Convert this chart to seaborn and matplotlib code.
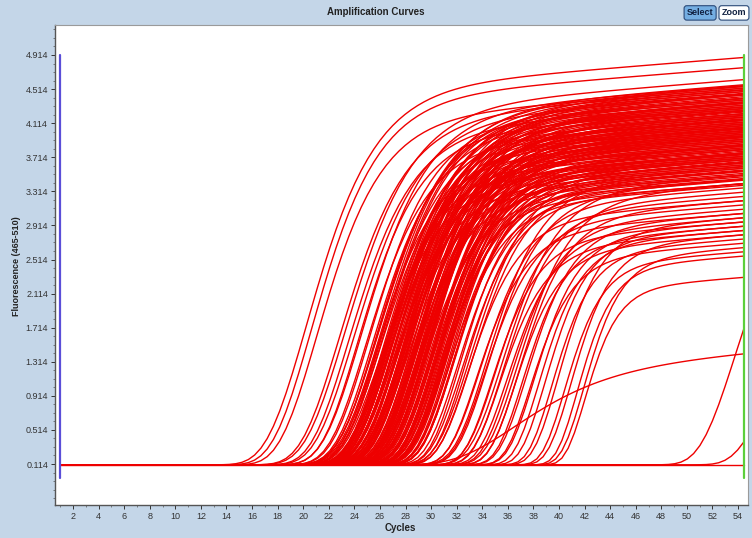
import numpy as np
import pandas as pd
import matplotlib
matplotlib.use('Agg')
import matplotlib.pyplot as plt
from matplotlib.ticker import AutoMinorLocator
import seaborn as sns

# per-well curve parameters:
# ct = cycle of the inflection, plateau = height above baseline at the last cycle,
# width = how many cycles the rise takes
ct = [
    20.2, 20.6, 21.0,
    22.8, 23.2, 23.5, 23.9, 24.2, 24.5, 24.8, 25.1,
    25.4, 25.6, 25.7, 25.9, 26.0, 26.1, 26.2, 26.3, 26.4, 26.5,
    26.6, 26.7, 26.8, 26.9, 27.0, 27.0, 27.1, 27.2, 27.3, 27.4,
    27.5, 27.5, 27.6, 27.7, 27.8, 27.9, 28.0, 28.0, 28.1, 28.2,
    28.3, 28.3, 28.4, 28.5, 28.6, 28.7, 28.8, 28.8, 28.9, 29.0,
    29.1, 29.1, 29.2, 29.3, 29.4, 29.5, 29.5, 29.6, 29.7, 29.8,
    29.9, 30.0, 30.0, 30.1, 30.2, 30.3, 30.4, 30.5, 30.6, 30.7,
    30.8, 30.9, 31.0, 31.1, 31.2, 31.3, 31.5, 31.6, 31.8, 32.0,
    26.2, 26.8, 27.3, 27.9, 28.4, 28.9, 29.4, 29.9, 30.4, 30.9,
    26.5, 27.1, 27.6, 28.1, 28.6, 29.2, 29.7, 30.2, 30.7, 31.4,
    25.8, 26.4, 27.0, 27.6, 28.2, 28.7, 29.3, 29.8, 30.3, 31.0,
    25.6, 26.0, 26.3, 26.7, 27.0, 27.4, 27.7, 28.0, 28.3, 28.6,
    28.9, 29.2, 29.5, 29.8, 30.1, 30.4, 30.7, 31.0, 31.3, 31.7,
    25.9, 26.3, 26.6, 27.0, 27.3, 27.6, 28.0, 28.4, 28.7, 29.0,
    29.4, 29.7, 30.0, 30.3, 30.6, 31.0, 31.4, 31.8, 32.2, 32.6,
    32.4, 32.8, 33.1, 33.5, 33.8, 34.1, 34.4, 34.7, 35.0, 35.3,
    35.6, 35.9, 36.2, 36.5, 36.8, 37.1, 37.4, 37.7, 38.0, 38.4,
    33.0, 34.3, 35.5, 36.7,
    38.9, 39.4, 39.9, 40.4, 40.9, 41.4, 41.9, 42.0,
    36.1, 53.7, 56.2, 60.0,
]
plateau = [
    4.78, 4.66, 4.42,
    4.40, 4.52, 4.25, 4.35, 4.18, 4.45, 4.05, 4.30,
    4.20, 3.85, 4.35, 3.60, 4.05, 4.42, 3.75, 4.15, 3.95, 4.30,
    3.70, 4.10, 4.38, 3.50, 3.90, 4.25, 4.00, 3.65, 4.32, 3.80,
    4.12, 3.45, 4.28, 3.88, 4.02, 3.72, 4.40, 3.58, 4.18, 3.92,
    3.66, 4.22, 3.40, 4.08, 3.84, 4.34, 3.55, 3.98, 4.14, 3.76,
    4.26, 3.62, 3.94, 3.35, 4.06, 3.82, 4.20, 3.48, 3.90, 4.10,
    3.70, 3.52, 4.16, 3.86, 3.30, 4.00, 3.64, 3.78, 3.44, 3.96,
    3.60, 3.38, 3.84, 3.50, 3.72, 3.28, 3.66, 3.42, 3.56, 3.34,
    4.36, 4.04, 3.82, 4.24, 3.68, 4.12, 3.92, 3.58, 3.80, 3.46,
    3.98, 4.30, 3.74, 4.18, 3.54, 3.88, 4.02, 3.62, 3.70, 3.40,
    4.44, 3.96, 4.22, 3.66, 4.08, 3.86, 3.76, 4.04, 3.52, 3.74,
    4.28, 4.46, 3.92, 4.16, 4.40, 3.86, 4.30, 4.06, 4.38, 3.96,
    4.24, 4.12, 3.88, 4.02, 3.94, 3.70, 3.82, 3.66, 3.54, 3.48,
    4.10, 3.74, 4.34, 3.98, 4.20, 4.44, 3.80, 4.26, 3.64, 4.16,
    3.92, 4.08, 3.78, 4.00, 3.86, 3.58, 3.90, 3.62, 3.40, 3.36,
    3.30, 3.10, 3.45, 2.95, 3.25, 3.05, 3.35, 2.85, 3.15, 2.75,
    3.20, 2.90, 3.00, 2.70, 3.10, 2.80, 2.95, 2.60, 2.85, 2.75,
    3.60, 3.50, 3.40, 3.30,
    2.80, 2.65, 2.90, 2.50, 2.70, 2.45, 2.55, 2.20,
    1.32, 3.40, 2.00, 0.00,
]
width = [
    3.1, 3.0, 2.9,
    3.0, 3.1, 2.9, 3.0, 2.8, 3.0, 2.8, 2.9,
    2.9, 2.7, 3.0, 2.8, 2.9, 3.1, 2.7, 2.8, 2.9, 3.0,
    2.6, 2.8, 3.0, 2.7, 2.8, 2.9, 2.7, 2.6, 3.0, 2.8,
    2.9, 2.6, 2.9, 2.8, 2.7, 2.6, 3.0, 2.7, 2.8, 2.7,
    2.6, 2.9, 2.5, 2.8, 2.7, 2.9, 2.6, 2.8, 2.9, 2.6,
    2.9, 2.6, 2.7, 2.5, 2.8, 2.6, 2.9, 2.5, 2.7, 2.8,
    2.6, 2.5, 2.8, 2.7, 2.4, 2.7, 2.6, 2.6, 2.5, 2.7,
    2.5, 2.4, 2.6, 2.5, 2.6, 2.4, 2.5, 2.4, 2.5, 2.4,
    3.0, 2.8, 2.7, 2.9, 2.6, 2.8, 2.7, 2.5, 2.6, 2.5,
    2.8, 3.0, 2.6, 2.9, 2.5, 2.7, 2.8, 2.5, 2.6, 2.4,
    3.1, 2.8, 2.9, 2.6, 2.8, 2.7, 2.6, 2.8, 2.5, 2.6,
    2.9, 3.1, 2.7, 2.8, 3.0, 2.6, 2.9, 2.8, 3.0, 2.7,
    2.9, 2.8, 2.6, 2.7, 2.7, 2.5, 2.6, 2.5, 2.4, 2.4,
    2.8, 2.6, 3.0, 2.7, 2.9, 3.1, 2.6, 2.9, 2.5, 2.8,
    2.7, 2.8, 2.6, 2.7, 2.6, 2.5, 2.6, 2.5, 2.3, 2.3,
    2.4, 2.3, 2.5, 2.2, 2.4, 2.3, 2.4, 2.1, 2.3, 2.1,
    2.3, 2.2, 2.2, 2.0, 2.2, 2.0, 2.1, 1.9, 2.0, 1.9,
    2.6, 2.5, 2.5, 2.4,
    1.9, 1.8, 1.9, 1.7, 1.8, 1.6, 1.7, 1.5,
    4.3, 2.7, 2.5, 1.0,
]
baseline = 0.105
drift = 0.012          # slow rise of the plateau per cycle
last_cycle = 54.45

y_ticks = [0.114, 0.514, 0.914, 1.314, 1.714, 2.114, 2.514, 2.914,
           3.314, 3.714, 4.114, 4.514, 4.914]
x_ticks = list(range(2, 55, 2))

# build long-form table, one row per well and cycle
cycles = np.linspace(1, last_cycle, 110)
rows = []
for i, (c, p, w) in enumerate(zip(ct, plateau, width)):
    amp = (p + drift * (cycles - last_cycle)) * np.exp(-np.exp(-(cycles - c) / w))
    rows.append(pd.DataFrame({'well': i, 'cycle': cycles, 'fluor': baseline + amp}))
df = pd.concat(rows, ignore_index=True)

sns.set_style('white')
plt.rcParams['font.family'] = ['Liberation Sans', 'DejaVu Sans']

bg = '#c4d6e8'
fig = plt.figure(figsize=(7.52, 5.38), dpi=100, facecolor=bg)
ax = fig.add_axes([55 / 752, 33 / 538, 693 / 752, 480 / 538])
ax.set_facecolor('white')

sns.lineplot(data=df, x='cycle', y='fluor', units='well', estimator=None,
             color='#ee0000', lw=1.0, ax=ax, legend=False)

# start / end markers of the analysis window
ax.plot([1, 1], [-0.05, 4.914], color='#5a4ed8', lw=1.6)
ax.plot([last_cycle, last_cycle], [-0.05, 4.914], color='#5ccf3a', lw=1.6)

ax.set_xlim(0.593, 54.78)
ax.set_ylim(-0.367, 5.266)
ax.set_yticks(y_ticks)
ax.set_yticklabels([f'{v:.3f}' for v in y_ticks])
ax.set_xticks(x_ticks)
ax.set_xticklabels([str(v) for v in x_ticks])
ax.yaxis.set_minor_locator(AutoMinorLocator(4))
ax.xaxis.set_minor_locator(AutoMinorLocator(2))
ax.tick_params(axis='both', which='major', direction='out', length=3, width=0.7,
               labelsize=6.5, colors='#333333', left=True, bottom=True, pad=2)
ax.tick_params(axis='both', which='minor', direction='out', length=1.5, width=0.5,
               colors='#555555', left=True, bottom=True)
ax.set_xlabel('')
ax.set_ylabel('')
for side in ['left', 'bottom']:
    ax.spines[side].set_color('#555555')
    ax.spines[side].set_linewidth(1.0)
for side in ['top', 'right']:
    ax.spines[side].set_color('#9a9a9a')
    ax.spines[side].set_linewidth(0.8)

fig.text(0.5, 0.978, 'Amplification Curves', ha='center', va='center',
         fontsize=7, fontweight='bold', color='#222222')
fig.text(0.022, 0.505, 'Fluorescence (465-510)', rotation=90, ha='center', va='center',
         fontsize=6.5, fontweight='bold', color='#222222')
fig.text(0.532, 0.019, 'Cycles', ha='center', va='center',
         fontsize=7, fontweight='bold', color='#222222')

# toolbar buttons
fig.text(0.931, 0.976, 'Select', ha='center', va='center', fontsize=6.5,
         fontweight='bold', color='#102040',
         bbox=dict(boxstyle='round,pad=0.3', facecolor='#74aee2', edgecolor='#2b4a78', lw=0.8))
fig.text(0.976, 0.976, 'Zoom', ha='center', va='center', fontsize=6.5,
         fontweight='bold', color='#102040',
         bbox=dict(boxstyle='round,pad=0.3', facecolor='white', edgecolor='#2b4a78', lw=0.8))

fig.savefig('out.png', dpi=100, facecolor=bg)
